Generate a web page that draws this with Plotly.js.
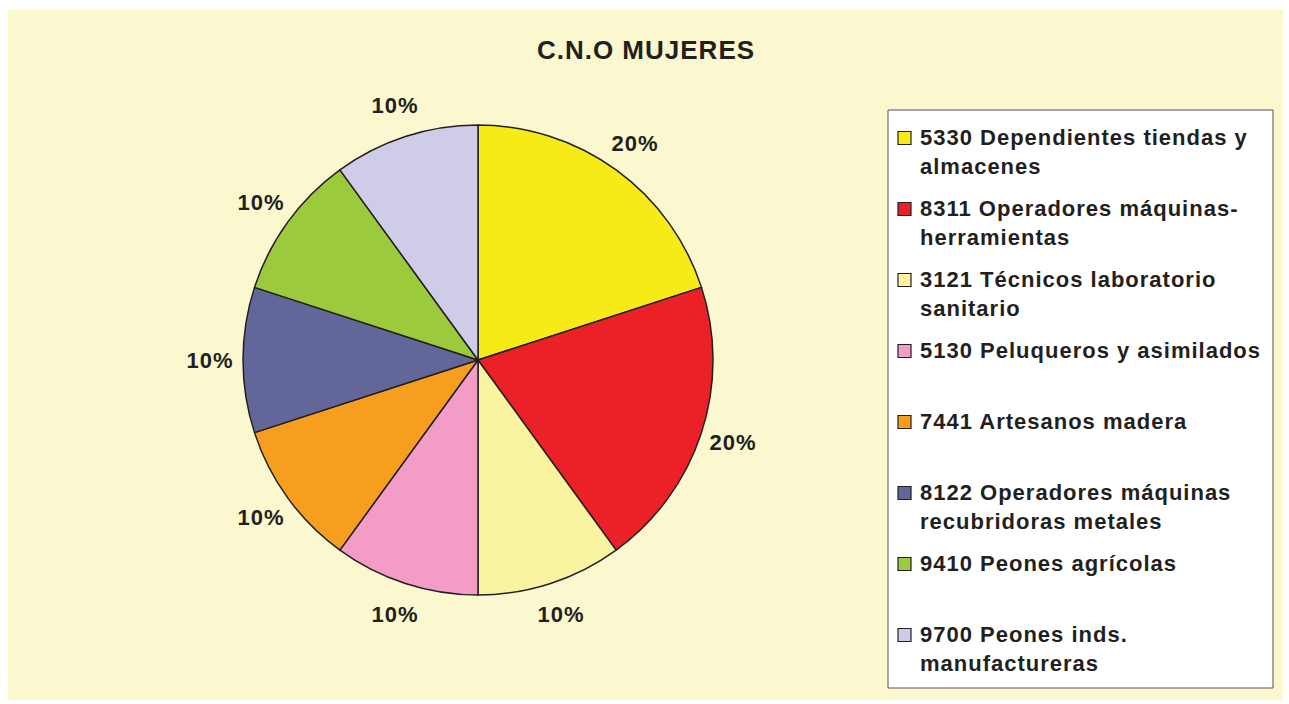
<!DOCTYPE html>
<html>
<head>
<meta charset="utf-8">
<script src="https://cdn.plot.ly/plotly-3.0.1.min.js"></script>
<style>html,body{margin:0;padding:0;background:#fff;}#chart{width:1289px;height:704px;}#chart text{letter-spacing:1px;}</style>
</head>
<body>
<div id="chart"></div>
<script>
// ---- data ----
const categories = [
  "5330 Dependientes tiendas y almacenes",
  "8311 Operadores máquinas-herramientas",
  "3121 Técnicos laboratorio sanitario",
  "5130 Peluqueros y asimilados",
  "7441 Artesanos madera",
  "8122 Operadores máquinas recubridoras metales",
  "9410 Peones agrícolas",
  "9700 Peones inds. manufactureras"
];
const legendText = [
  "5330 Dependientes tiendas y<br>almacenes",
  "8311 Operadores máquinas-<br>herramientas",
  "3121 Técnicos laboratorio<br>sanitario",
  "5130 Peluqueros y asimilados",
  "7441 Artesanos madera",
  "8122 Operadores máquinas<br>recubridoras metales",
  "9410 Peones agrícolas",
  "9700 Peones inds.<br>manufactureras"
];
const values = [2, 2, 1, 1, 1, 1, 1, 1];
const colors = ["#F6EB16", "#EC2027", "#FAF3A0", "#F39CC5", "#F79E1E", "#636699", "#9BCA3C", "#CECCE7"];
const titleText = "C.N.O MUJERES";

// ---- layout constants ----
const W = 1289, H = 704;
const PIE = {cx: 478, cy: 360, r: 235};
const FONT = "Arial, 'Liberation Sans', sans-serif";
const TXT = "#231F20";
const px = x => x / W;
const py = y => 1 - y / H;

const trace = {
  type: "pie",
  labels: categories,
  values: values,
  sort: false,
  direction: "clockwise",
  rotation: 0,
  textinfo: "none",
  hoverinfo: "label+percent",
  showlegend: false,
  marker: {colors: colors, line: {color: TXT, width: 1.5}},
  domain: {x: [px(PIE.cx - PIE.r), px(PIE.cx + PIE.r)], y: [py(PIE.cy + PIE.r), py(PIE.cy - PIE.r)]}
};

const shapes = [
  {type: "rect", xref: "paper", yref: "paper", layer: "below",
   x0: px(8), x1: px(1283), y0: py(700), y1: py(10),
   fillcolor: "#FBF7CE", line: {width: 0}},
  {type: "rect", xref: "paper", yref: "paper", layer: "below",
   x0: px(888), x1: px(1273), y0: py(688), y1: py(110),
   fillcolor: "#FFFFFF", line: {color: "#555555", width: 1}}
];
const annotations = [];

// percent labels placed around the pie from the values
const total = values.reduce((a, b) => a + b, 0);
let cum = 0;
values.forEach((v, i) => {
  const mid = (cum + v / 2) / total * 2 * Math.PI;
  cum += v;
  const rr = PIE.r * 1.14;
  annotations.push({
    xref: "paper", yref: "paper",
    x: px(PIE.cx + rr * Math.sin(mid)), y: py(PIE.cy - rr * Math.cos(mid)),
    xanchor: "center", yanchor: "middle", showarrow: false,
    text: Math.round(v / total * 100) + "%",
    font: {family: FONT, size: 22, color: TXT, weight: "bold"}
  });
});

// legend
const LG = {sx: 898, size: 13, tx: 918, y0: 138, step: 71};
categories.forEach((c, i) => {
  const yc = LG.y0 + LG.step * i;
  shapes.push({type: "rect", xref: "paper", yref: "paper", layer: "below",
    x0: px(LG.sx), x1: px(LG.sx + LG.size), y0: py(yc + LG.size / 2), y1: py(yc - LG.size / 2),
    fillcolor: colors[i], line: {color: TXT, width: 1.2}});
  annotations.push({
    xref: "paper", yref: "paper", x: px(LG.tx), y: py(yc - 15.5),
    xanchor: "left", yanchor: "top", align: "left", showarrow: false,
    text: legendText[i],
    font: {family: FONT, size: 22, color: TXT, weight: "bold"}
  });
});

const layout = {
  width: W, height: H,
  margin: {l: 0, r: 0, t: 0, b: 0},
  paper_bgcolor: "#FFFFFF",
  showlegend: false,
  title: {text: titleText, x: px(646), xanchor: "center", y: py(50), yanchor: "middle",
          font: {family: FONT, size: 26, color: TXT, weight: "bold"}},
  shapes: shapes,
  annotations: annotations
};

Plotly.newPlot("chart", [trace], layout, {displayModeBar: false, staticPlot: true});
</script>
</body>
</html>
